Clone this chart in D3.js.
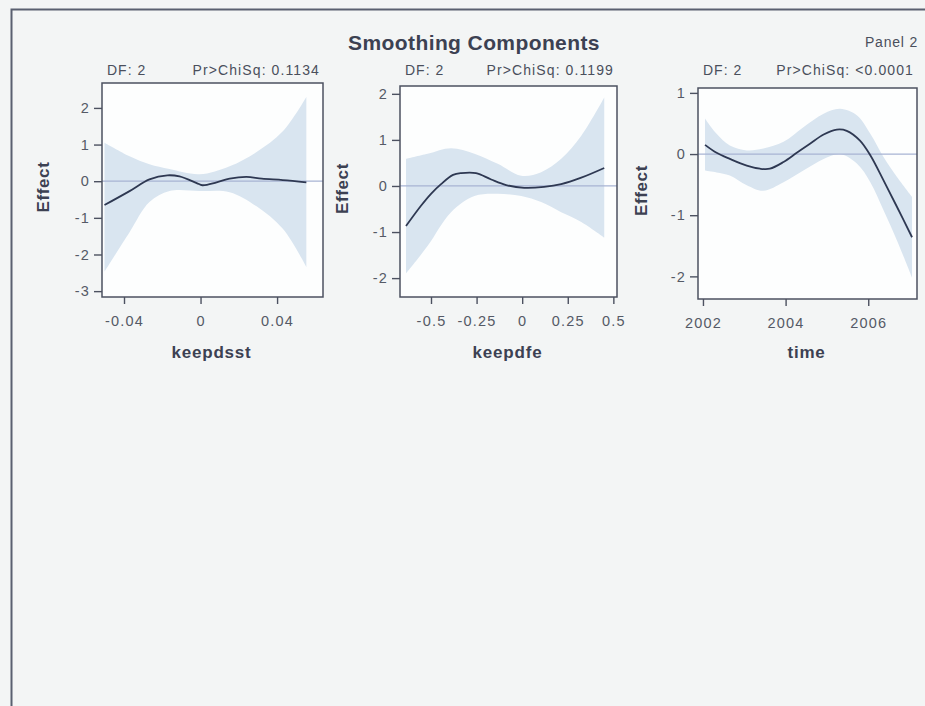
<!DOCTYPE html>
<html>
<head>
<meta charset="utf-8">
<script src="https://cdn.jsdelivr.net/npm/d3@7"></script>
<style>
  html, body { margin: 0; padding: 0; background: #f3f5f5; }
  svg { display: block; }
  text { font-family: "Liberation Sans", Arial, sans-serif; }
</style>
</head>
<body>
<svg id="chart" width="925" height="706"></svg>
<script>
// ---- keepdsst component ----
const dsstX     = [-0.0502, -0.0371, -0.0267, -0.0173, -0.0110, -0.0020, 0.0010, 0.0084, 0.0152, 0.0240, 0.0320, 0.0430, 0.0553];
const dsstFit   = [-0.65, -0.27, 0.05, 0.16, 0.13, -0.05, -0.11, -0.03, 0.07, 0.12, 0.07, 0.03, -0.03];
const dsstBandX = [-0.0502, -0.0371, -0.0267, -0.0162, -0.0005, 0.0152, 0.0291, 0.0430, 0.0553];
const dsstUpper = [1.05, 0.68, 0.46, 0.33, 0.19, 0.41, 0.79, 1.36, 2.30];
const dsstLower = [-2.47, -1.39, -0.57, -0.27, -0.27, -0.30, -0.68, -1.30, -2.34];

// ---- keepdfe component ----
const dfeX     = [-0.637, -0.555, -0.500, -0.445, -0.379, -0.335, -0.253, -0.170, -0.088, 0.011, 0.120, 0.214, 0.324, 0.450];
const dfeFit   = [-0.87, -0.43, -0.17, 0.04, 0.24, 0.28, 0.28, 0.14, 0.02, -0.04, -0.02, 0.04, 0.18, 0.39];
const dfeBandX = [-0.637, -0.518, -0.390, -0.262, -0.134, -0.005, 0.104, 0.214, 0.324, 0.450];
const dfeUpper = [0.59, 0.70, 0.82, 0.70, 0.48, 0.22, 0.30, 0.59, 1.09, 1.92];
const dfeLower = [-1.90, -1.30, -0.57, -0.22, -0.17, -0.22, -0.35, -0.57, -0.78, -1.12];

// ---- time component ----
const timeX     = [2002.05, 2002.33, 2002.65, 2003.06, 2003.38, 2003.62, 2003.95, 2004.27, 2004.59, 2004.92, 2005.24, 2005.48, 2005.80, 2006.05, 2006.37, 2006.70, 2007.06];
const timeFit   = [0.15, 0.02, -0.08, -0.19, -0.24, -0.24, -0.13, 0.02, 0.17, 0.32, 0.40, 0.38, 0.22, -0.02, -0.43, -0.87, -1.36];
const timeBandX = [2002.05, 2002.33, 2002.65, 2003.06, 2003.46, 2003.95, 2004.43, 2004.92, 2005.32, 2005.73, 2006.05, 2006.37, 2006.70, 2007.06];
const timeUpper = [0.58, 0.33, 0.14, 0.06, 0.09, 0.20, 0.44, 0.66, 0.74, 0.63, 0.33, -0.05, -0.38, -0.70];
const timeLower = [-0.27, -0.30, -0.35, -0.51, -0.60, -0.46, -0.27, -0.08, 0.00, -0.16, -0.46, -0.92, -1.42, -2.02];

// ---- tick values and panel labels ----
const dsstXTicks = [-0.04, 0, 0.04];
const dsstYTicks = [-3, -2, -1, 0, 1, 2];
const dfeXTicks  = [-0.5, -0.25, 0, 0.25, 0.5];
const dfeYTicks  = [-2, -1, 0, 1, 2];
const timeXTicks = [2002, 2004, 2006];
const timeYTicks = [-2, -1, 0, 1];
const panelNames = ["keepdsst", "keepdfe", "time"];
const dfLabels   = ["DF: 2", "DF: 2", "DF: 2"];
const pLabels    = ["Pr>ChiSq: 0.1134", "Pr>ChiSq: 0.1199", "Pr>ChiSq: <0.0001"];

const panels = [
  { name: panelNames[0], df: dfLabels[0], p: pLabels[0],
    x: dsstX, fit: dsstFit, bx: dsstBandX, up: dsstUpper, lo: dsstLower,
    xDomain: [-0.0515, 0.064], yDomain: [-3.16, 2.68],
    xTicks: dsstXTicks, yTicks: dsstYTicks, fmt: d => d === 0 ? "0" : d3.format(".2f")(d).replace("−", "-"),
    box: { l: 102, r: 323, t: 83, b: 297 }, effectX: 43 },
  { name: panelNames[1], df: dfLabels[1], p: pLabels[1],
    x: dfeX, fit: dfeFit, bx: dfeBandX, up: dfeUpper, lo: dfeLower,
    xDomain: [-0.67, 0.52], yDomain: [-2.41, 2.17],
    xTicks: dfeXTicks, yTicks: dfeYTicks, fmt: d => d === 0 ? "0" : String(d),
    box: { l: 400, r: 617, t: 86, b: 297 }, effectX: 342 },
  { name: panelNames[2], df: dfLabels[2], p: pLabels[2],
    x: timeX, fit: timeFit, bx: timeBandX, up: timeUpper, lo: timeLower,
    xDomain: [2001.88, 2007.18], yDomain: [-2.37, 1.08],
    xTicks: timeXTicks, yTicks: timeYTicks, fmt: d => String(d),
    box: { l: 698, r: 917, t: 88, b: 299 }, effectX: 641 }
];

const svg = d3.select("#chart");

// outer frame
svg.append("rect").attr("x", 0).attr("y", 0).attr("width", 925).attr("height", 706).attr("fill", "#f3f5f5");
svg.append("path")
  .attr("d", "M11.5,712 L11.5,9.5 L930,9.5")
  .attr("fill", "none").attr("stroke", "#5a6070").attr("stroke-width", 2);

// headings
svg.append("text").attr("x", 474).attr("y", 50).attr("text-anchor", "middle")
  .attr("font-size", 21).attr("font-weight", "bold").attr("letter-spacing", 0.4).attr("fill", "#3c4152")
  .text("Smoothing Components");
svg.append("text").attr("x", 918).attr("y", 47).attr("text-anchor", "end")
  .attr("font-size", 14).attr("letter-spacing", 0.8).attr("fill", "#4a4f5c").text("Panel 2");

panels.forEach(pn => {
  const b = pn.box;
  const x = d3.scaleLinear().domain(pn.xDomain).range([b.l, b.r]);
  const y = d3.scaleLinear().domain(pn.yDomain).range([b.b, b.t]);
  const g = svg.append("g");

  // plot area
  g.append("rect").attr("x", b.l).attr("y", b.t).attr("width", b.r - b.l).attr("height", b.b - b.t)
    .attr("fill", "#fdfefe");

  // confidence band
  const band = pn.bx.map((v, i) => ({ x: v, lo: pn.lo[i], up: pn.up[i] }));
  g.append("path").datum(band)
    .attr("d", d3.area().x(d => x(d.x)).y0(d => y(d.lo)).y1(d => y(d.up)).curve(d3.curveCatmullRom))
    .attr("fill", "#d9e5f0");

  // zero reference
  g.append("line").attr("x1", b.l).attr("x2", b.r).attr("y1", y(0)).attr("y2", y(0))
    .attr("stroke", "#a7b3d3").attr("stroke-width", 1.2);

  // fitted smooth
  const pts = pn.x.map((v, i) => ({ x: v, y: pn.fit[i] }));
  g.append("path").datum(pts)
    .attr("d", d3.line().x(d => x(d.x)).y(d => y(d.y)).curve(d3.curveCatmullRom))
    .attr("fill", "none").attr("stroke", "#2e3852").attr("stroke-width", 1.8);

  // frame
  g.append("rect").attr("x", b.l).attr("y", b.t).attr("width", b.r - b.l).attr("height", b.b - b.t)
    .attr("fill", "none").attr("stroke", "#4c5160").attr("stroke-width", 1.5);

  // axes
  const ax = g.append("g").attr("transform", `translate(0,${b.b})`)
    .call(d3.axisBottom(x).tickValues(pn.xTicks).tickFormat(pn.fmt).tickSize(7).tickPadding(12));
  const ay = g.append("g").attr("transform", `translate(${b.l},0)`)
    .call(d3.axisLeft(y).tickValues(pn.yTicks).tickFormat(d => String(d)).tickSize(8).tickPadding(4));
  [ax, ay].forEach(a => {
    a.select(".domain").remove();
    a.selectAll(".tick line").attr("stroke", "#4c5160").attr("stroke-width", 1.4);
    a.selectAll(".tick text").attr("fill", "#555a66").attr("font-size", 14.5).attr("letter-spacing", 1.2)
      .attr("font-family", "'Liberation Sans', Arial, sans-serif");
  });

  // header statistics
  g.append("text").attr("x", b.l + 5).attr("y", 75).attr("font-size", 14).attr("letter-spacing", 1)
    .attr("fill", "#4a4f5c").text(pn.df);
  g.append("text").attr("x", b.r - 3).attr("y", 75).attr("text-anchor", "end")
    .attr("font-size", 14).attr("letter-spacing", 1.1).attr("fill", "#4a4f5c").text(pn.p);

  // axis titles
  g.append("text").attr("x", (b.l + b.r) / 2 - 1).attr("y", 358).attr("text-anchor", "middle")
    .attr("font-size", 17).attr("font-weight", "bold").attr("letter-spacing", 0.8).attr("fill", "#3c4152").text(pn.name);
  g.append("text").attr("transform", `translate(${pn.effectX + 6},${(b.t + b.b) / 2 - 3}) rotate(-90)`)
    .attr("text-anchor", "middle").attr("font-size", 17).attr("font-weight", "bold").attr("letter-spacing", 0.6)
    .attr("fill", "#3c4152").text("Effect");
});
</script>
</body>
</html>
